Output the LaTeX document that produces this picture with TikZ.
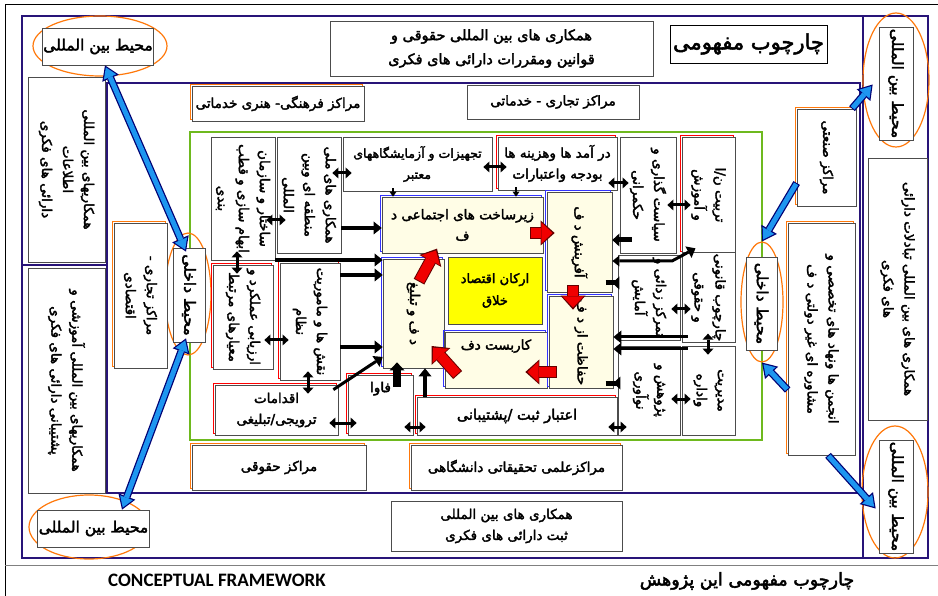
\documentclass[tikz,border=0pt]{standalone}
\usepackage{fontspec}
\usetikzlibrary{shapes,arrows.meta,calc}
\setsansfont{Carlito}
\newfontfamily\farsi[Script=Arabic,FakeBold=2.5]{DejaVu Sans}
\TeXXeTstate=1
\newcommand{\fa}[1]{\beginR#1\endR}
\definecolor{frame}{RGB}{40,20,120}
\definecolor{leaf}{RGB}{110,185,30}
\definecolor{ringc}{RGB}{255,120,10}
\definecolor{cream}{RGB}{255,253,230}
\definecolor{sky}{RGB}{30,150,240}
\definecolor{block}{RGB}{240,0,0}
\definecolor{lemon}{RGB}{255,255,0}

\begin{document}
\begin{tikzpicture}[x=1pt,y=-1pt]
\tikzstyle{box}=[draw=black!70, fill=white, line width=0.7pt, inner sep=1pt, align=center, font=\farsi\fontsize{13.5}{21}\selectfont]
\tikzstyle{vbox}=[box, rotate=-90]
\tikzstyle{cbox}=[box, fill=cream, bluerim]
\tikzstyle{env}=[font=\farsi\fontsize{15.5}{21}\selectfont]
\tikzstyle{ring}=[ellipse, draw=ringc, line width=1.2pt, inner sep=0pt]
\tikzstyle{redrim}=[preaction={draw=red, line width=0.9pt, transform canvas={shift={(-1.3pt,1.3pt)}}}]
\tikzstyle{orangerim}=[preaction={draw=ringc, line width=1pt, transform canvas={shift={(-1.3pt,1.3pt)}}}]
\tikzstyle{bluerim}=[preaction={draw=blue!80, line width=0.9pt, transform canvas={shift={(-1.3pt,1.3pt)}}}]
\tikzstyle{dbl}=[line width=3pt, {Triangle[length=6pt,width=11pt,line width=0pt]}-{Triangle[length=6pt,width=11pt,line width=0pt]}, shorten <=-9pt, shorten >=-9pt]
\tikzstyle{feed}=[line width=4pt, -{Triangle[length=8pt,width=13pt,line width=0pt]}]
\tikzstyle{tick}=[line width=1.6pt, -{Triangle[length=5pt,width=7pt,line width=0pt]}, shorten <=-3pt]
\tikzstyle{stub}=[line width=5pt, -{Triangle[length=7pt,width=13pt,line width=0pt]}, shorten <=-12pt]
\tikzstyle{bluearrow}=[draw=blue!45!black, line width=7.5pt, -{Triangle[length=14pt,width=18pt,line width=0pt]},
  postaction={draw=sky, line width=5pt, shorten >=2.2pt, shorten <=1pt, -{Triangle[length=10.5pt,width=13.5pt,line width=0pt]}}]
\tikzstyle{bluearrows}=[draw=blue!45!black, line width=7.5pt, {Triangle[length=14pt,width=18pt,line width=0pt]}-{Triangle[length=14pt,width=18pt,line width=0pt]},
  postaction={draw=sky, line width=5pt, shorten >=2.2pt, shorten <=2.2pt, {Triangle[length=10.5pt,width=13.5pt,line width=0pt]}-{Triangle[length=10.5pt,width=13.5pt,line width=0pt]}}]
\tikzstyle{redarrow}=[draw=red!40!black, line width=12pt, -{Triangle[length=14pt,width=25pt,line width=0pt]},
  postaction={draw=block, line width=10pt, shorten >=2.2pt, shorten <=1pt, -{Triangle[length=11pt,width=21pt,line width=0pt]}}]

\fill[white] (0,0) rectangle (938,596);
\useasboundingbox (0,0) rectangle (938,596);

% frames
\draw[line width=1pt] (5,596) -- (5,5) -- (938,5);
\draw[black!50, line width=1pt] (5,565) -- (938,565);
\draw[frame, line width=2pt] (22,16) rectangle (928,558);
\draw[frame, line width=1.6pt] (107,493) -- (107,83) -- (860,83) -- (860,493) -- cycle;
\draw[frame, line width=1.6pt] (863,16) -- (863,558);
\draw[frame, line width=1.6pt] (22,265) -- (107,265);
\draw[leaf, line width=2.2pt] (190,132) rectangle (762,440);

% rings
\node[ring, minimum width=134pt, minimum height=60pt] (ibTLring) at (100,46) {};
\node[ring, minimum width=66pt, minimum height=134pt] (ibTRring) at (896,80) {};
\node[ring, minimum width=66pt, minimum height=132pt] (ibBRring) at (895,492) {};
\node[ring, minimum width=120pt, minimum height=64pt] (ibBLring) at (89,527) {};
\node[ring, minimum width=46pt, minimum height=122pt] (domLring) at (188,294) {};
\node[ring, minimum width=42pt, minimum height=120pt] (domRring) at (762,302) {};

% outer boxes
\node[box, env, minimum width=106pt, minimum height=37pt] (ibTL) at (98,46.5) {\fa{محیط بین المللی}};
\node[box, minimum width=323pt, minimum height=55pt, font=\farsi\fontsize{14.5}{24}\selectfont] (lawcoop) at (491.5,48.5)
  {\fa{همکاری های  بین المللی حقوقی و}\\\fa{قوانین ومقررات دارائی های فکری}};
\node[box, draw=black, minimum width=157pt, minimum height=38pt, font=\farsi\fontsize{21}{24}\selectfont] (title) at (748.5,44) {\fa{چارچوب مفهومی}};
\node[vbox, env, minimum width=113pt, minimum height=34pt] (ibTR) at (896,83.5) {\fa{محیط بین المللی}};
\node[box, orangerim, minimum width=172pt, minimum height=35pt] (cultural) at (278,103.5) {\fa{مراکز فرهنگی- هنری خدماتی}};
\node[box, minimum width=172pt, minimum height=34pt] (trade) at (553,102) {\fa{مراکز تجاری - خدماتی}};
\node[vbox, orangerim, minimum width=97pt, minimum height=59pt] (industrial) at (826.5,157.5) {\fa{مراکز صنعتی}};
\node[vbox, orangerim, minimum width=232pt, minimum height=67pt] (ngo) at (821.5,339)
  {\fa{انجمن ها ونهاد های تخصصی و}\\\fa{مشاوره ای غیر دولتی د ف}};
\node[vbox, minimum width=262pt, minimum height=59pt] (exch) at (897.5,289)
  {\fa{همکاری های بین المللی تبادلات دارائی}\\\fa{های فکری}};
\node[vbox, env, minimum width=113pt, minimum height=34pt] (ibBR) at (896,496.5) {\fa{محیط بین المللی}};
\node[box, orangerim, minimum width=174pt, minimum height=45pt] (legal) at (279,467.5) {\fa{مراکز حقوقی}};
\node[box, orangerim, minimum width=211pt, minimum height=45pt] (univ) at (516.5,467.5) {\fa{مراکزعلمی تحقیقاتی دانشگاهی}};
\node[box, minimum width=231pt, minimum height=50pt] (regcoop) at (506.5,526)
  {\fa{همکاری های بین المللی}\\\fa{ثبت دارائی های فکری}};
\node[box, env, minimum width=105pt, minimum height=37pt] (ibBL) at (93.5,528.5) {\fa{محیط بین المللی}};
\node[vbox, minimum width=185pt, minimum height=77pt] (info) at (66.5,169.5)
  {\fa{همکاریهای بین المللی}\\\fa{اطلاعات}\\\fa{دارائی های فکری}};
\node[vbox, minimum width=225pt, minimum height=77pt] (support) at (66.5,380.5)
  {\fa{همکاریهای بین المللی آموزشی و}\\\fa{پشتیبانی دارائی های فکری}};
\node[vbox, orangerim, minimum width=145pt, minimum height=53pt] (econ) at (140.5,295.5)
  {\fa{مراکز تجاری -}\\\fa{اقتصادی}};
\node[vbox, env, minimum width=94pt, minimum height=32pt] (domL) at (189,295) {\fa{محیط داخلی}};
\node[vbox, env, minimum width=93pt, minimum height=31pt] (domR) at (761.5,303.5) {\fa{محیط داخلی}};

% inner boxes
\node[vbox, minimum width=123pt, minimum height=64pt] (struct) at (243,198.5)
  {\fa{ساختار و سازمان}\\\fa{ابهام سازی و قطب}\\\fa{بندی}};
\node[vbox, minimum width=116pt, minimum height=64pt] (natcoop) at (309,195)
  {\fa{همکاری های ملی}\\\fa{منطقه ای وبین}\\\fa{المللی}};
\node[box, minimum width=149pt, minimum height=54pt, font=\farsi\fontsize{12.5}{21}\selectfont] (equip) at (417.5,164)
  {\fa{تجهیزات و آزمایشگاههای}\\\fa{معتبر}};
\node[box, redrim, minimum width=119pt, minimum height=53pt] (budget) at (557.5,163.5)
  {\fa{در آمد ها وهزینه ها}\\\fa{بودجه واعتبارات}};
\node[vbox, minimum width=116pt, minimum height=56pt] (policy) at (648,195)
  {\fa{سیاست گذاری و}\\\fa{حکمرانی}};
\node[vbox, redrim, minimum width=116pt, minimum height=53pt] (training) at (708.5,195)
  {\fa{تربیت ن/ا}\\\fa{و آموزش}};
\node[cbox, minimum width=161pt, minimum height=56pt] (infra) at (462.5,225)
  {\fa{زیرساخت های اجتماعی د}\\\fa{ف}};
\node[cbox, rotate=-90, minimum width=100pt, minimum height=65pt] (creation) at (579.5,242) {\fa{آفرینش د ف}};
\node[box, fill=lemon, minimum width=94pt, minimum height=67pt, font=\farsi\fontsize{13}{22}\selectfont] (pillars) at (495,290.5)
  {\fa{ارکان اقتصاد}\\\fa{خلاق}};
\node[cbox, rotate=-90, minimum width=109pt, minimum height=61pt] (promo) at (413.5,313.5) {\fa{د ف و تبلیغ}};
\node[cbox, minimum width=102pt, minimum height=56pt, text depth=31pt] (applic) at (496,360) {\fa{کاربست دف}};
\node[cbox, rotate=-90, minimum width=92pt, minimum height=64pt] (protect) at (581,342) {\fa{حفاظت از د ف}};
\node[box, redrim, minimum width=200pt, minimum height=38pt, font=\farsi\fontsize{14.5}{21}\selectfont] (credit) at (517,416) {\fa{اعتبار ثبت /پشتیبانی}};
\node[box, redrim, minimum width=65pt, minimum height=60pt, text depth=36pt] (ict) at (380.5,405) {\fa{فاوا}};
\node[box, redrim, minimum width=123pt, minimum height=50pt] (action) at (276.5,410)
  {\fa{اقدامات}\\\fa{ترویجی/تبلیغی}};
\node[vbox, redrim, minimum width=117pt, minimum height=60pt] (roles) at (310,321.5)
  {\fa{نقش ها و ماموریت}\\\fa{نظام}};
\node[vbox, redrim, minimum width=104pt, minimum height=60pt] (eval) at (243,317)
  {\fa{ارزیابی عملکرد و}\\\fa{معیارهای مرتبط}};
\node[vbox, minimum width=85pt, minimum height=62pt] (decent) at (649,297.5)
  {\fa{تمرکز زدائی و}\\\fa{آمایش}};
\node[vbox, minimum width=85pt, minimum height=53pt] (lawfw) at (708.5,297.5)
  {\fa{چارچوب قانونی}\\\fa{و حقوقی}};
\node[vbox, minimum width=89pt, minimum height=62pt] (research) at (649,390.5)
  {\fa{پژوهش و}\\\fa{نوآوری}};
\node[vbox, minimum width=89pt, minimum height=53pt] (manage) at (708.5,390.5)
  {\fa{مدیریت}\\\fa{واداره}};

% captions
\node[font=\sffamily\bfseries\fontsize{19}{22}\selectfont] (capen) at (217,580) {CONCEPTUAL FRAMEWORK};
\node[font=\farsi\fontsize{17.5}{20}\selectfont] (capfa) at (747,581) {\fa{چارچوب مفهومی این پژوهش}};

% black links
\draw[dbl] (struct.north |- 0,220) -- (natcoop.south |- 0,220);
\draw[dbl] (natcoop.north |- 0,173) -- (equip.west |- 0,173);
\draw[dbl] (equip.east |- 0,167) -- (budget.west |- 0,167);
\draw[dbl] (budget.east |- 0,183) -- (policy.south |- 0,183);
\draw[dbl] (policy.north |- 0,205) -- (training.south |- 0,205);
\draw[dbl] (eval.north |- 0,340) -- (roles.south |- 0,340);
\draw[dbl] (action.east |- 0,423) -- (ict.west |- 0,423);
\draw[dbl] (ict.east |- 0,427) -- (credit.west |- 0,427);
\draw[dbl] (credit.east |- 0,427) -- (research.south |- 0,427);
\draw[dbl] (decent.north |- 0,309) -- (lawfw.south |- 0,309);
\draw[dbl] (research.north |- 0,399) -- (manage.south |- 0,399);
\draw[dbl] (237,0 |- struct.east) -- (237,0 |- eval.west);
\draw[dbl] (308,0 |- roles.east) -- (308,0 |- action.north);
\draw[dbl] (708,0 |- lawfw.east) -- (708,0 |- manage.west);
\draw[tick] (393,0 |- equip.south) -- (393,0 |- infra.north);
\draw[tick] (516,0 |- budget.south) -- (516,0 |- infra.north);
\draw[feed] (natcoop.north |- 0,228) -- (infra.west |- 0,228);
\draw[feed] (struct.north |- 0,260) -- (promo.south |- 0,260);
\draw[feed] (roles.north |- 0,275) -- (promo.south |- 0,275);
\draw[feed] (roles.north |- 0,347) -- (promo.south |- 0,347);
\draw[feed, line width=3pt] ($(action.north east)+(-5,5)$) -- (promo.south |- 0,357);
\draw[line width=8pt, -{Triangle[length=8pt,width=15pt,line width=0pt]}, shorten <=-12pt, shorten >=-6pt] (397,0 |- ict.north) -- (397,0 |- promo.east);
\draw[feed] (425,0 |- credit.north) -- (425,0 |- promo.east);
\draw[stub] (research.south |- 0,383) -- (protect.north |- 0,383);
\draw[stub] (decent.south |- 0,283) -- (creation.north |- 0,283);
\draw[stub] (policy.south |- 0,240) -- (creation.north |- 0,240);
\draw[feed, line width=3pt, shorten <=-6pt] (lawfw.south |- 0,337) -- (protect.north |- 0,337);
\draw[feed, line width=3pt, shorten <=-6pt] (manage.south |- 0,349) -- (protect.north |- 0,349);
\coordinate (bend) at (672,261);
\draw[line width=3pt, {Triangle[length=7pt,width=11pt,line width=0pt]}-{Triangle[length=8pt,width=13pt,line width=0pt]}]
  (creation.north |- 0,261) -- (bend) -- ($(training.east)+(-13,-5)$);

% red block arrows
\draw[redarrow] ($(infra.east |- 0,233)+(-13,0)$) -- ($(creation.south |- 0,233)+(8,0)$);
\draw[redarrow] ($(promo.west)+(5.5,23)$) -- ($(promo.west)+(23.5,-10)$);
\draw[redarrow] ($(573,0 |- creation.east)+(0,-7)$) -- ($(573,0 |- protect.west)+(0,14)$);
\draw[redarrow] ($(protect.south |- 0,372)+(8,0)$) -- ($(applic.east |- 0,372)+(-22,0)$);
\draw[redarrow] ($(applic.west)+(13,15)$) -- ($(applic.west)+(-13,-14)$);

% blue arrows
\draw[bluearrows] (ibTL.south -| 105,0) -- ($(domL.west)+(-3,4)$);
\draw[bluearrows] ($(domL.east)+(-3,-4)$) -- (ibBL.north -| 122,0);
\draw[bluearrow] (industrial.west -| 852,0) -- ($(ibTR.south)+(-6,1)$);
\draw[bluearrow] (industrial.south |- 0,183) -- (domRring.north);
\draw[bluearrow] (ngo.south |- 0,390) -- (domRring.south);
\draw[bluearrow] (828,0 |- ngo.east) -- ($(ibBR.south)+(-3,12)$);
\end{tikzpicture}
\end{document}
